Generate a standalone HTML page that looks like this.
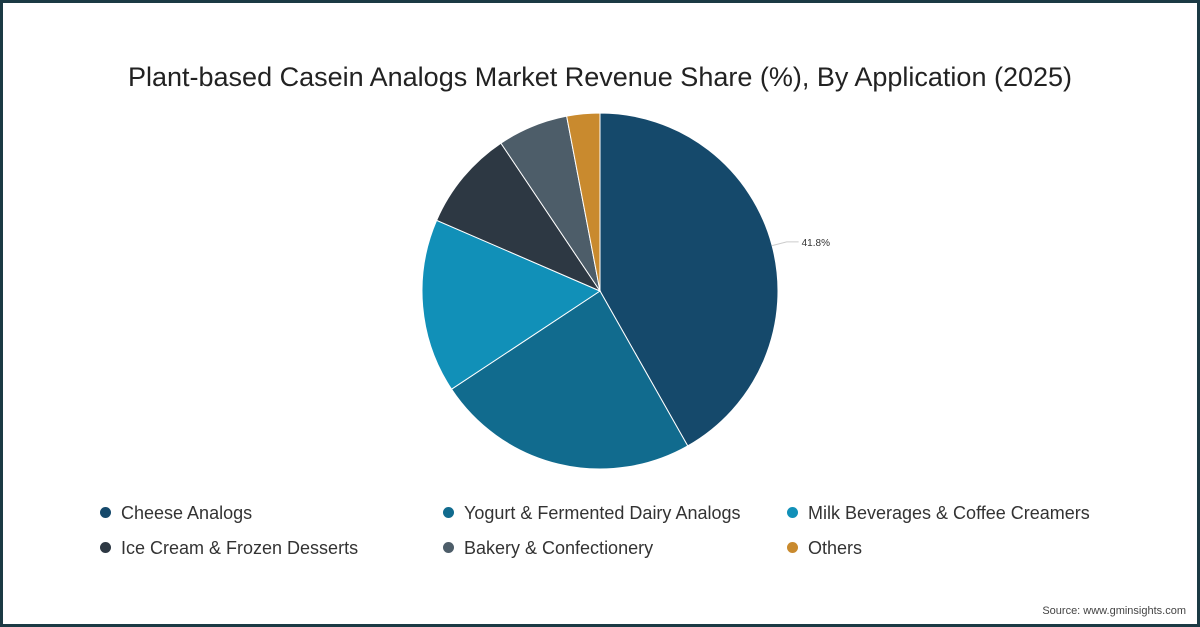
<!DOCTYPE html>
<html><head><meta charset="utf-8"><style>
body{margin:0;width:1200px;height:627px;overflow:hidden;background:#fff;font-family:"Liberation Sans",sans-serif}
#frame{position:absolute;left:0;top:0;width:1194px;height:621px;border:3px solid #1b3a44;background:#fff}
#title{position:absolute;left:0;width:1200px;top:62px;text-align:center;font-size:27px;color:#222}
.leg{position:absolute;font-size:18px;color:#333}
.leg span{display:inline-block;width:11px;height:11px;border-radius:50%;margin-right:10px;vertical-align:1px}
#src{position:absolute;right:14px;top:605px;font-size:11px;color:#444}
</style></head><body>
<div id="frame"></div>
<div id="title">Plant-based Casein Analogs Market Revenue Share (%), By Application (2025)</div>
<svg id="pie" width="1200" height="627" style="position:absolute;left:0;top:0"></svg>
<div class="leg" style="left:100px;top:503px"><span style="background:#15496b"></span>Cheese Analogs</div>
<div class="leg" style="left:443px;top:503px"><span style="background:#116b8e"></span>Yogurt &amp; Fermented Dairy Analogs</div>
<div class="leg" style="left:787px;top:503px"><span style="background:#1190b8"></span>Milk Beverages &amp; Coffee Creamers</div>
<div class="leg" style="left:100px;top:538px"><span style="background:#2d3843"></span>Ice Cream &amp; Frozen Desserts</div>
<div class="leg" style="left:443px;top:538px"><span style="background:#4d5d69"></span>Bakery &amp; Confectionery</div>
<div class="leg" style="left:787px;top:538px"><span style="background:#c98a2e"></span>Others</div>
<div id="src">Source: www.gminsights.com</div>
<script>
const categories=["Cheese Analogs","Yogurt & Fermented Dairy Analogs","Milk Beverages & Coffee Creamers","Ice Cream & Frozen Desserts","Bakery & Confectionery","Others"];
const values=[41.8,23.9,15.8,9.1,6.4,3.0];
const labels=["41.8%","","","","",""];
const colors=["#15496b","#116b8e","#1190b8","#2d3843","#4d5d69","#c98a2e"];
const svg=document.getElementById('pie');const NS="http://www.w3.org/2000/svg";
const cx=600,cy=291,r=178;const total=values.reduce((a,b)=>a+b,0);
function pt(a,rr){return [cx+rr*Math.sin(a),cy-rr*Math.cos(a)];}
let acc=0;
values.forEach((v,i)=>{
 const a0=acc/total*2*Math.PI;acc+=v;const a1=acc/total*2*Math.PI;
 const p0=pt(a0,r),p1=pt(a1,r);
 const p=document.createElementNS(NS,'path');
 p.setAttribute('d',`M${cx},${cy}L${p0[0]},${p0[1]}A${r},${r} 0 ${a1-a0>Math.PI?1:0} 1 ${p1[0]},${p1[1]}Z`);
 p.setAttribute('fill',colors[i]);p.setAttribute('stroke','#fff');p.setAttribute('stroke-width','1');
 
 
 svg.appendChild(p);
 if(labels[i]){
  const am=(a0+a1)/2;const q0=pt(am,r),q1=pt(am,r+15);
  const l=document.createElementNS(NS,'polyline');
  l.setAttribute('points',`${q0[0]},${q0[1]} ${q1[0]},${q1[1]} ${q1[0]+12},${q1[1]}`);
  l.setAttribute('fill','none');l.setAttribute('stroke','#ccc');
  
  
  svg.appendChild(l);
  const t=document.createElementNS(NS,'text');
  t.setAttribute('x',q1[0]+15);t.setAttribute('y',q1[1]+4);t.setAttribute('font-size','10');t.setAttribute('fill','#333');
  t.textContent=labels[i];
  
  
  svg.appendChild(t);
 }
});
</script>
</body></html>
